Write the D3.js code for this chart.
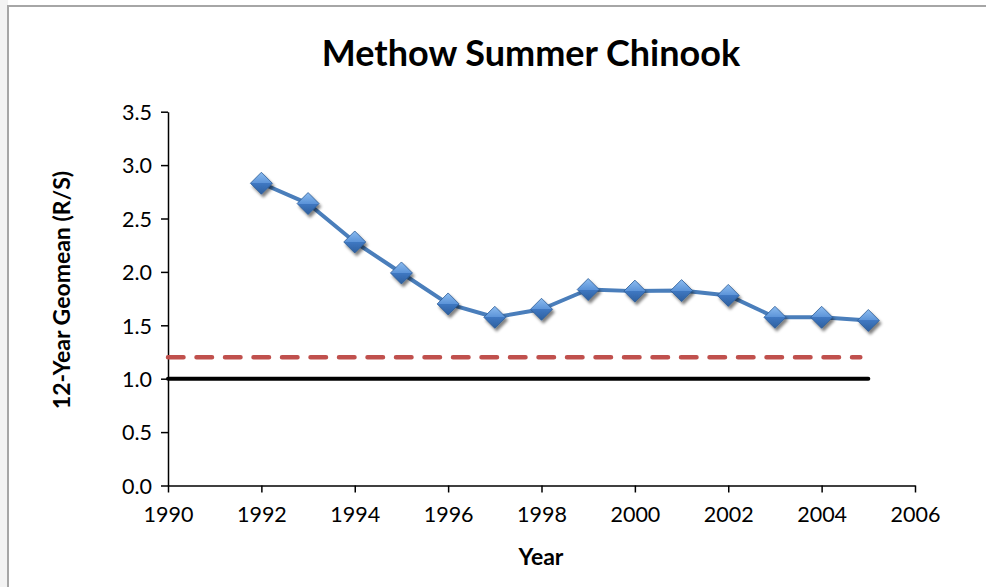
<!DOCTYPE html>
<html>
<head>
<meta charset="utf-8">
<script src="https://cdn.jsdelivr.net/npm/d3@7"></script>
<style>
html,body{margin:0;padding:0;background:#fff;}
svg{display:block;}
</style>
</head>
<body>
<script>
const years = [1992,1993,1994,1995,1996,1997,1998,1999,2000,2001,2002,2003,2004,2005];
const geomean = [2.83,2.64,2.28,1.99,1.70,1.575,1.65,1.835,1.82,1.825,1.78,1.575,1.575,1.545];
const refRed = {value:1.2, from:1990, to:2005};
const refBlack = {value:1.0, from:1990, to:2005};
const xTicks = [1990,1992,1994,1996,1998,2000,2002,2004,2006];
const yTicks = [0,0.5,1,1.5,2,2.5,3,3.5];

const W=986,H=587;
const svg=d3.select("body").append("svg").attr("width",W).attr("height",H);
svg.append("rect").attr("x",0).attr("y",0).attr("width",8).attr("height",H).attr("fill","#f3f3f3");
svg.append("rect").attr("x",8).attr("y",6).attr("width",W).attr("height",H).attr("fill","#fff").attr("stroke","#a6a6a6").attr("stroke-width",2);

const defs=svg.append("defs");
const g1=defs.append("linearGradient").attr("id","dg").attr("x1","0").attr("y1","0").attr("x2","0").attr("y2","1");
g1.append("stop").attr("offset","0").attr("stop-color","#8cbcf0");
g1.append("stop").attr("offset","0.5").attr("stop-color","#5b93d8");
g1.append("stop").attr("offset","0.5").attr("stop-color","#3f78c2");
g1.append("stop").attr("offset","1").attr("stop-color","#2d5f9f");
const f=defs.append("filter").attr("id","sh").attr("x","-50%").attr("y","-50%").attr("width","200%").attr("height","200%");
f.append("feGaussianBlur").attr("in","SourceAlpha").attr("stdDeviation",1.8).attr("result","b");
f.append("feOffset").attr("in","b").attr("dx",1.5).attr("dy",2.5).attr("result","o");
f.append("feComponentTransfer").attr("in","o").attr("result","o2").append("feFuncA").attr("type","linear").attr("slope",0.5);
const fm=f.append("feMerge");fm.append("feMergeNode").attr("in","o2");fm.append("feMergeNode").attr("in","SourceGraphic");

const x=d3.scaleLinear().domain([1990,2006]).range([168,915]);
const y=d3.scaleLinear().domain([0,3.5]).range([485.5,111.7]);

const font="Lato, 'Open Sans', sans-serif";

// axes
const xa=svg.append("g").attr("transform","translate(0,485.5)")
  .call(d3.axisBottom(x).tickValues(xTicks).tickFormat(d3.format("d")).tickSizeOuter(0).tickSizeInner(7).tickPadding(14));
const ya=svg.append("g").attr("transform","translate(168,0)")
  .call(d3.axisLeft(y).tickValues(yTicks).tickFormat(d3.format(".1f")).tickSizeOuter(0).tickSizeInner(7).tickPadding(9));
[xa,ya].forEach(a=>{
  a.select(".domain").attr("stroke","#000").attr("stroke-width",1.5);
  a.selectAll(".tick line").attr("stroke","#000").attr("stroke-width",1.5);
  a.selectAll(".tick text").attr("fill","#000").style("font-family",font).style("font-size","21.5px");
});
ya.selectAll(".tick text").attr("dy","0.36em");

// reference lines
svg.append("line").attr("x1",x(refRed.from)).attr("x2",x(refRed.to)-8).attr("y1",y(refRed.value)).attr("y2",y(refRed.value))
  .attr("stroke","#c0504d").attr("stroke-width",4.5).attr("stroke-dasharray","15.5,13").attr("stroke-linecap","round");
svg.append("line").attr("x1",x(refBlack.from)).attr("x2",x(refBlack.to)).attr("y1",y(refBlack.value)).attr("y2",y(refBlack.value))
  .attr("stroke","#000").attr("stroke-width",4).attr("stroke-linecap","round");

// series
const data=years.map((yr,i)=>({yr,v:geomean[i]}));
svg.append("path").datum(data).attr("fill","none").attr("stroke","#4a7ebb").attr("stroke-width",4).attr("stroke-linejoin","round")
  .attr("d",d3.line().x(d=>x(d.yr)).y(d=>y(d.v)));
const s=11;
svg.append("g").selectAll("path").data(data).join("path")
  .attr("d",d=>`M${x(d.yr)},${y(d.v)-s}L${x(d.yr)+s},${y(d.v)}L${x(d.yr)},${y(d.v)+s}L${x(d.yr)-s},${y(d.v)}Z`)
  .attr("fill","url(#dg)").attr("stroke","#2b5a94").attr("stroke-width",0.8).attr("filter","url(#sh)");

// titles
svg.append("text").attr("x",531).attr("y",66).attr("text-anchor","middle").style("font-family",font)
  .style("font-size","36px").style("font-weight","bold").text("Methow Summer Chinook");
svg.append("text").attr("x",541).attr("y",565).attr("text-anchor","middle").style("font-family",font)
  .style("font-size","23px").style("font-weight","bold").text("Year");
svg.append("text").attr("transform","translate(70,290) rotate(-90)").attr("text-anchor","middle").style("font-family",font)
  .style("font-size","23px").style("font-weight","bold").text("12-Year Geomean (R/S)");
</script>
</body>
</html>
